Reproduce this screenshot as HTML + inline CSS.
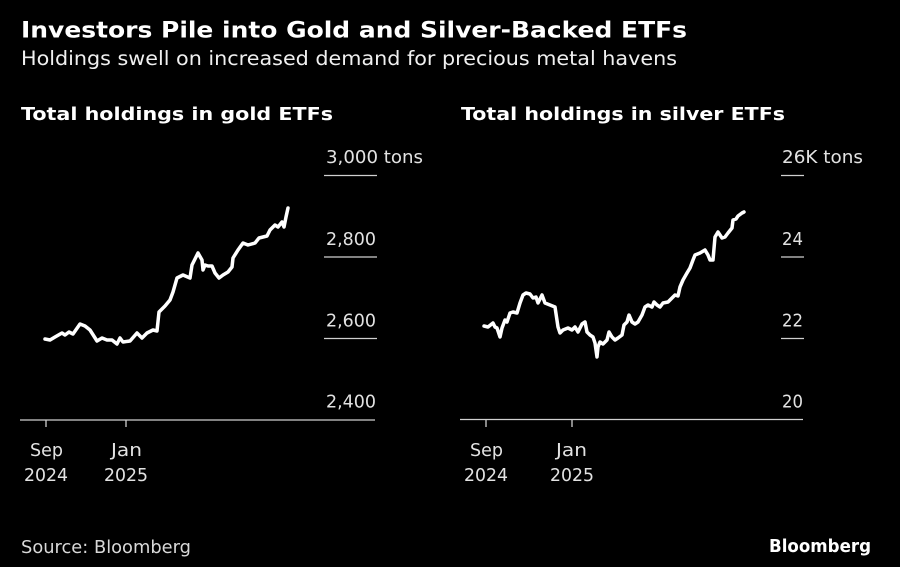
<!DOCTYPE html>
<html><head><meta charset="utf-8"><style>
html,body{margin:0;padding:0;background:#000;}
svg{display:block;}
text{font-family:"DejaVu Sans","Liberation Sans",sans-serif;}
</style></head><body>
<svg width="900" height="567" viewBox="0 0 900 567" xmlns="http://www.w3.org/2000/svg">
<rect width="900" height="567" fill="#000"/>
<text x="21" y="37.5" font-size="22" font-weight="bold" fill="#fff" textLength="666" lengthAdjust="spacingAndGlyphs">Investors Pile into Gold and Silver-Backed ETFs</text>
<text x="21" y="65" font-size="19.5" fill="#f0f0f0" textLength="656" lengthAdjust="spacingAndGlyphs">Holdings swell on increased demand for precious metal havens</text>
<text x="21" y="120" font-size="18" font-weight="bold" fill="#fff" textLength="312" lengthAdjust="spacingAndGlyphs">Total holdings in gold ETFs</text>
<text x="461" y="120" font-size="18" font-weight="bold" fill="#fff" textLength="324" lengthAdjust="spacingAndGlyphs">Total holdings in silver ETFs</text>

<!-- gold axis -->
<g stroke="#d0d0d0" stroke-width="1.3">
<line x1="324" y1="175.5" x2="377" y2="175.5"/>
<line x1="324" y1="257" x2="377" y2="257"/>
<line x1="324" y1="338.5" x2="377" y2="338.5"/>
<line x1="20" y1="420" x2="375" y2="420"/>
<line x1="46" y1="420" x2="46" y2="427"/>
<line x1="126" y1="420" x2="126" y2="427"/>
</g>
<g font-size="18" fill="#e2e2e2">
<text x="326" y="163" textLength="97" lengthAdjust="spacingAndGlyphs">3,000 tons</text>
<text x="326" y="245" textLength="50" lengthAdjust="spacingAndGlyphs">2,800</text>
<text x="326" y="326.5" textLength="50" lengthAdjust="spacingAndGlyphs">2,600</text>
<text x="326" y="407.5" textLength="50" lengthAdjust="spacingAndGlyphs">2,400</text>
<text x="30" y="456" textLength="33" lengthAdjust="spacingAndGlyphs">Sep</text>
<text x="24" y="481" textLength="44" lengthAdjust="spacingAndGlyphs">2024</text>
<text x="111" y="456" textLength="31" lengthAdjust="spacingAndGlyphs">Jan</text>
<text x="104" y="481" textLength="44" lengthAdjust="spacingAndGlyphs">2025</text>
</g>
<polyline fill="none" stroke="#fff" stroke-width="3.5" stroke-linejoin="round" stroke-linecap="round" points="45,339 50,340 55,337 62,333 65,335 69,332 73,334 80,324 85,326 90,330 97,341 102,338 107,340 112,340 117,344 120,338 123,342 130,341 137,333 142,338 147,333 153,330 157,331 159,312 165,306 170,300 173,292 177,278 183,275 190,278 192,265 198,253 202,260 203,270 205,265 208,266 212,266 215,273 219,278 223,275 228,272 232,267 233,258 238,250 243,243 248,245 255,243 259,238 263,237 267,236 270,230 275,225 278,227 282,222 284,227 286,217 288,208"/>

<!-- silver axis -->
<g stroke="#d0d0d0" stroke-width="1.3">
<line x1="781" y1="175.5" x2="804" y2="175.5"/>
<line x1="781" y1="257" x2="804" y2="257"/>
<line x1="781" y1="338.5" x2="804" y2="338.5"/>
<line x1="460" y1="419.5" x2="803" y2="419.5"/>
<line x1="486" y1="419.5" x2="486" y2="427"/>
<line x1="572" y1="419.5" x2="572" y2="427"/>
</g>
<g font-size="18" fill="#e2e2e2">
<text x="782" y="163" textLength="81" lengthAdjust="spacingAndGlyphs">26K tons</text>
<text x="782" y="245" textLength="21" lengthAdjust="spacingAndGlyphs">24</text>
<text x="782" y="326.5" textLength="21" lengthAdjust="spacingAndGlyphs">22</text>
<text x="782" y="407.5" textLength="21" lengthAdjust="spacingAndGlyphs">20</text>
<text x="470" y="456" textLength="33" lengthAdjust="spacingAndGlyphs">Sep</text>
<text x="464" y="481" textLength="44" lengthAdjust="spacingAndGlyphs">2024</text>
<text x="556" y="456" textLength="31" lengthAdjust="spacingAndGlyphs">Jan</text>
<text x="550" y="481" textLength="44" lengthAdjust="spacingAndGlyphs">2025</text>
</g>
<polyline fill="none" stroke="#fff" stroke-width="3.5" stroke-linejoin="round" stroke-linecap="round" points="484,326 488,327 493,323 495,327 497,328 500,337 502,328 505,320 507,322 510,313 513,312 517,313 520,303 523,295 526,293 530,294 533,298 536,297 538,303 542,295 545,303 550,305 555,307 558,327 560,333 563,330 568,328 572,330 575,327 578,332 582,324 585,322 587,332 590,335 593,337 595,343 597,357 598,347 600,342 603,344 607,340 609,332 612,337 615,340 618,338 622,335 624,325 627,322 629,315 632,322 635,324 638,322 642,315 645,307 648,305 652,307 654,302 657,305 660,307 663,303 668,302 672,298 675,295 678,296 680,287 683,280 687,273 690,268 693,260 695,255 700,253 705,250 708,255 710,260 713,260 715,237 718,232 722,238 725,237 728,233 732,228 733,220 736,219 738,216 742,213 744,212"/>

<text x="21" y="553" font-size="18" fill="#d8d8d8" textLength="170" lengthAdjust="spacingAndGlyphs">Source: Bloomberg</text>
<text x="769" y="552" font-size="18" font-weight="bold" fill="#fff" textLength="102" lengthAdjust="spacingAndGlyphs">Bloomberg</text>
</svg>
</body></html>
